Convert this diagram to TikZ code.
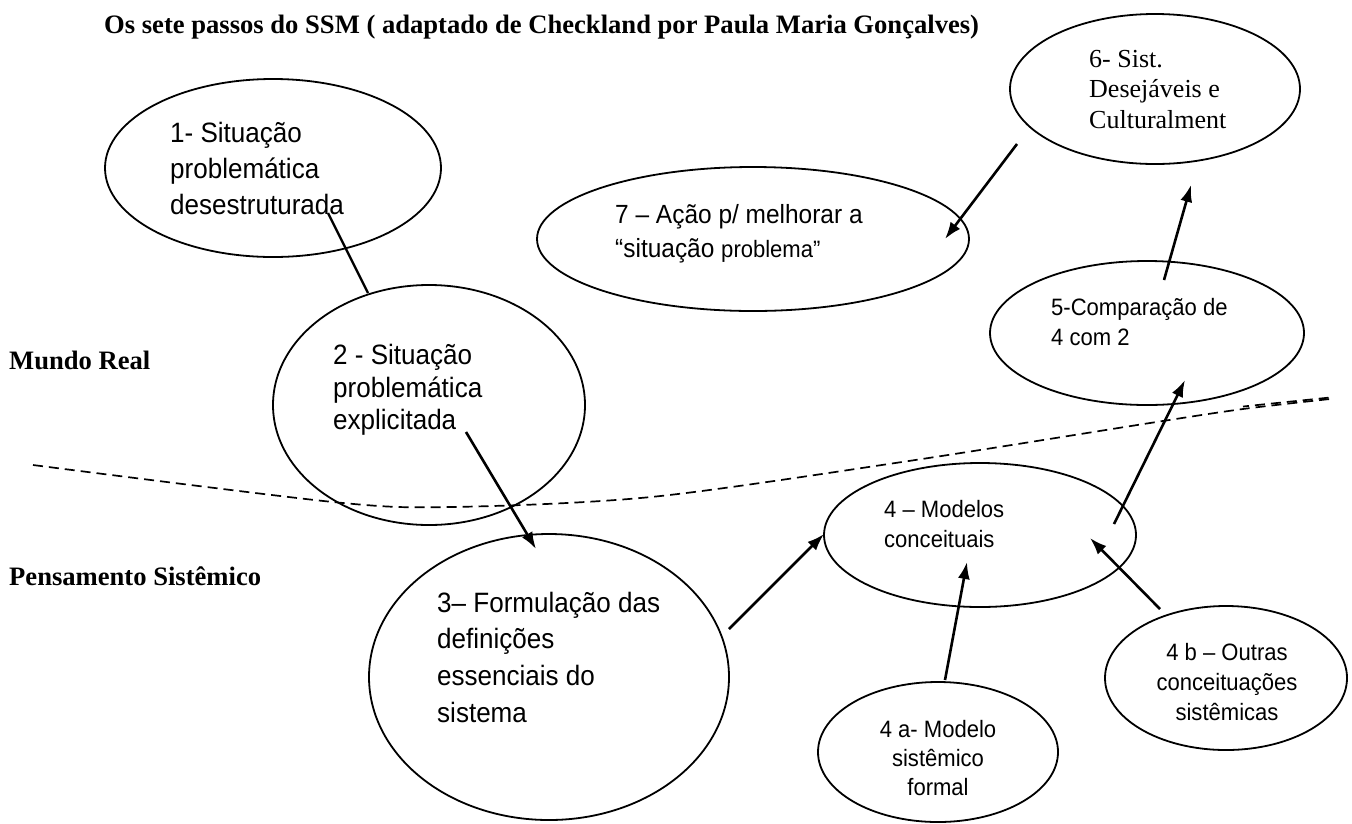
\documentclass[tikz,border=0pt]{standalone}
\usepackage{fontspec}
\setmainfont{Liberation Serif}
\setsansfont{Liberation Sans}[FakeStretch=0.93]
\usepackage{tikz}
\usetikzlibrary{shapes.geometric, arrows.meta}

\tikzset{
  stage/.style={draw, ellipse, line width=1.8pt, inner sep=0pt},
  txt/.style={font=\sffamily\fontsize{#1}{#1}\selectfont, align=left, anchor=north west, inner sep=0pt},
  flow/.style={-{Latex[length=17pt,width=12pt]}, line width=2.6pt},
  side/.style={font=\bfseries\fontsize{26.6}{30}\selectfont, anchor=base west, inner sep=0pt},
  border/.style={line width=1.7pt, dash pattern=on 10pt off 6pt}
}

\begin{document}
\begin{tikzpicture}[x=1pt, y=-1pt]
      \useasboundingbox (0,0) rectangle (1352,823);

      \node[side] (title) at (104,33) {Os sete passos do SSM ( adaptado de Checkland por Paula Maria Gonçalves)};
      \node[side] (real) at (9,369) {Mundo Real};
      \node[side] (sist) at (9,585) {Pensamento Sistêmico};

      \node[stage, minimum width=336, minimum height=178] (s1) at (273,168) {};
      \node[stage, minimum width=312, minimum height=240] (s2) at (429,405) {};
      \node[stage, minimum width=360, minimum height=286] (s3) at (549,677) {};
      \node[stage, minimum width=312, minimum height=144] (s4) at (980,535) {};
      \node[stage, minimum width=240, minimum height=140] (s4a) at (938,752) {};
      \node[stage, minimum width=242, minimum height=144] (s4b) at (1226,678) {};
      \node[stage, minimum width=314, minimum height=144] (s5) at (1147,333) {};
      \node[stage, minimum width=290, minimum height=150] (s6) at (1155,89) {};
      \node[stage, minimum width=432, minimum height=144] (s7) at (753,239) {};

      \node[txt=28, font=\sffamily\fontsize{28}{36}\selectfont] (t1) at (170,122.5) {1- Situação\\problemática\\desestruturada};
      \node[txt=28, font=\sffamily\fontsize{28}{32.5}\selectfont] (t2) at (333,344.5) {2 - Situação\\problemática\\explicitada};
      \node[txt=28, font=\sffamily\fontsize{28}{36.7}\selectfont] (t3) at (437,591.5) {3– Formulação das\\definições\\essenciais do\\sistema};
      \node[txt=23.7, font=\sffamily\fontsize{23.7}{30}\selectfont] (t4) at (884,499.8) {4 – Modelos\\conceituais};
      \node[txt=23.7, font=\sffamily\fontsize{23.7}{29}\selectfont, align=center, anchor=north] (t4a) at (938,719.8) {4 a- Modelo\\sistêmico\\formal};
      \node[txt=23.7, font=\sffamily\fontsize{23.7}{30}\selectfont, align=center, anchor=north] (t4b) at (1227,642.8) {4 b – Outras\\conceituações\\sistêmicas};
      \node[txt=23.7, font=\sffamily\fontsize{23.7}{30}\selectfont] (t5) at (1051,297.8) {5-Comparação de\\4 com 2};
      \node[txt=26, font=\rmfamily\fontsize{26}{30.5}\selectfont] (t6) at (1089,50) {6- Sist.\\Desejáveis e\\Culturalment};
      \node[txt=26.3, font=\sffamily\fontsize{26.3}{34}\selectfont] (t7) at (615,204.5) {7 – Ação p/ melhorar a\\“situação {\fontsize{23.7}{34}\selectfont problema”}};

      \draw[line width=2.4pt] ([shift={(55,45)}]s1.center) -- ([shift={(-61,-112)}]s2.center);
      \draw[flow] ([shift={(37,27)}]s2.center) -- ([shift={(-13,-128)}]s3.center);
      \draw[flow] ([shift={(180,-48)}]s3.center) -- ([shift={(-156,-1)}]s4.center);
      \draw[flow] ([shift={(7,-72)}]s4a.center) -- ([shift={(-13,27)}]s4.center);
      \draw[flow] ([shift={(-66,-69)}]s4b.center) -- ([shift={(110,3)}]s4.center);
      \draw[flow] ([shift={(134,-11)}]s4.center) -- ([shift={(38,47)}]s5.center);
      \draw[flow] ([shift={(17,-53)}]s5.center) -- ([shift={(36,96)}]s6.center);
      \draw[flow] ([shift={(-138,55)}]s6.center) -- ([shift={(192,0)}]s7.center);

      \draw[border] plot[smooth] coordinates {(33,465) (333,502) (451,507) (651,497) (902,462) (1150,423) (1243,409) (1330,399)};
      \draw[border, dash phase=4pt] (1243,406.5) -- (1330,397.5);

    \end{tikzpicture}
\end{document}
